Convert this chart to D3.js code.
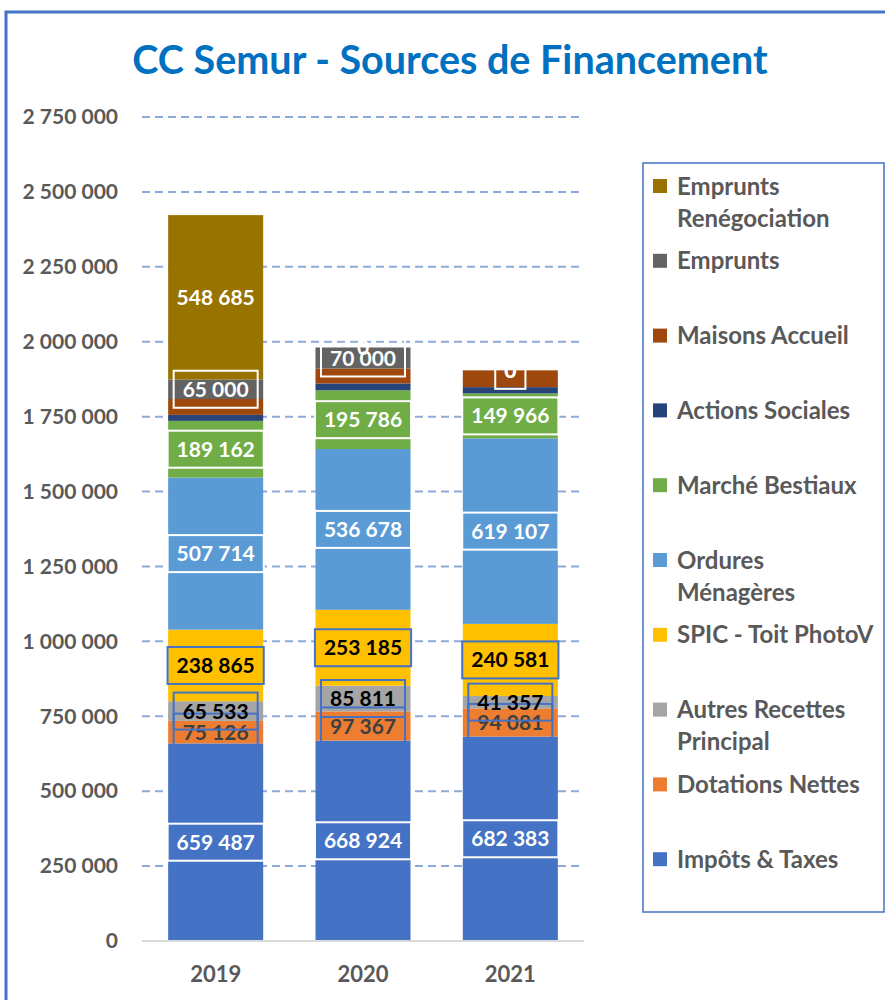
<!DOCTYPE html>
<html>
<head>
<meta charset="utf-8">
<script src="https://cdn.jsdelivr.net/npm/d3@7"></script>
<style>
  body { margin: 0; background: #fff; }
  svg text { font-family: Lato, "Open Sans", sans-serif; font-weight: bold; }
</style>
</head>
<body>
<svg id="chart" width="885" height="1000"></svg>
<script>
// chart values (bottom of the stack first)
const years = ["2019", "2020", "2021"];
const seriesNames = ["Impôts & Taxes", "Dotations Nettes", "Autres Recettes Principal", "SPIC - Toit PhotoV",
  "Ordures Ménagères", "Marché Bestiaux", "Actions Sociales", "Maisons Accueil", "Emprunts", "Emprunts Renégociation"];
const impots = [659487, 668924, 682383];
const dotations = [75126, 97367, 94081];
const autres = [65533, 85811, 41357];
const spic = [238865, 253185, 240581];
const ordures = [507714, 536678, 619107];
const marche = [189162, 195786, 149966];
const actions = [20000, 23000, 21000];
const maisons = [53000, 50000, 56000];
const emprunts = [65000, 70000, 0];
const renegociation = [548685, 0, 0];
const yTicks = [0, 250000, 500000, 750000, 1000000, 1250000, 1500000, 1750000, 2000000, 2250000, 2500000, 2750000];

const allValues = [impots, dotations, autres, spic, ordures, marche, actions, maisons, emprunts, renegociation];
const colors = ["#4472C4", "#ED7D31", "#A5A5A5", "#FFC000", "#5B9BD5", "#70AD47", "#264478", "#9E480E", "#636363", "#997300"];
// label look per series: text colour, box colour (null = no box), shown or not
const labelText = ["#fff", "#404040", "#000", "#000", "#fff", "#fff", null, null, "#fff", "#fff"];
const labelBox = ["#fff", "#4472C4", "#4472C4", "#4472C4", "#fff", "#fff", null, null, "#fff", null];

const svg = d3.select("#chart");
const fr = d3.formatLocale({ decimal: ",", thousands: " ", grouping: [3], currency: ["", " €"] });
const fmt = fr.format(",d");

// outer frame
svg.append("rect").attr("x", 6).attr("y", 12).attr("width", 900).attr("height", 1000)
  .attr("fill", "none").attr("stroke", "#4472C4").attr("stroke-width", 3);

svg.append("text").attr("x", 450).attr("y", 74).attr("text-anchor", "middle")
  .attr("fill", "#0070C0").style("font-size", "39.5px").text("CC Semur - Sources de Financement");

const x = d3.scaleBand().domain(years).range([142, 584]).paddingInner(0.355).paddingOuter(0.1775);
const y = d3.scaleLinear().domain([0, 2750000]).range([941, 117]);

// table for the stack
const table = years.map((yr, i) => {
  const row = { year: yr };
  seriesNames.forEach((s, k) => row[s] = allValues[k][i]);
  return row;
});
const stacked = d3.stack().keys(seriesNames)(table);

// gridlines
svg.append("g").selectAll("line").data(yTicks.filter(d => d > 0)).join("line")
  .attr("x1", 142).attr("x2", 584)
  .attr("y1", d => y(d)).attr("y2", d => y(d))
  .attr("stroke", "#8EA9DB").attr("stroke-width", 2).attr("stroke-dasharray", "8,5");

// y axis labels
const yAxis = svg.append("g").attr("transform", "translate(124,0)")
  .call(d3.axisLeft(y).tickValues(yTicks).tickSize(0).tickPadding(6).tickFormat(fmt));
yAxis.select(".domain").remove();
yAxis.selectAll("text").attr("fill", "#595959").style("font-size", "21px")
  .style("font-family", "Lato, sans-serif").style("font-weight", "bold");

// bars
svg.append("g").selectAll("g").data(stacked).join("g")
  .attr("fill", (d, k) => colors[k])
  .selectAll("rect").data(d => d).join("rect")
  .attr("x", d => x(d.data.year))
  .attr("width", x.bandwidth())
  .attr("y", d => y(d[1]))
  .attr("height", d => y(d[0]) - y(d[1]));

// baseline
svg.append("line").attr("x1", 142).attr("x2", 584).attr("y1", y(0)).attr("y2", y(0))
  .attr("stroke", "#D9D9D9").attr("stroke-width", 2);

// x axis labels
const xAxis = svg.append("g").attr("transform", "translate(0," + y(0) + ")")
  .call(d3.axisBottom(x).tickSize(0).tickPadding(25));
xAxis.select(".domain").remove();
xAxis.selectAll("text").attr("fill", "#595959").style("font-size", "22px")
  .style("font-family", "Lato, sans-serif").style("font-weight", "bold");

// data labels
const labels = svg.append("g");
stacked.forEach((layer, k) => {
  if (!labelText[k]) return;
  layer.forEach(d => {
    const cx = x(d.data.year) + x.bandwidth() / 2;
    const cy = y((d[0] + d[1]) / 2);
    const g = labels.append("g");
    const t = g.append("text").attr("x", cx).attr("y", cy).attr("dy", "0.36em")
      .attr("text-anchor", "middle").attr("fill", labelText[k])
      .style("font-size", "21px").text(fmt(d[1] - d[0]));
    if (labelBox[k]) {
      const w = t.node().getComputedTextLength() + 18;
      g.insert("rect", "text").attr("x", cx - w / 2).attr("y", cy - 18.5)
        .attr("width", w).attr("height", 37)
        .attr("fill", "none").attr("stroke", labelBox[k]).attr("stroke-width", 2);
    }
  });
});

// legend
svg.append("rect").attr("x", 643).attr("y", 163).attr("width", 241).attr("height", 749)
  .attr("fill", "#fff").attr("stroke", "#4472C4").attr("stroke-width", 1.5);
const legendLines = [["Emprunts", "Renégociation"], ["Emprunts"], ["Maisons Accueil"], ["Actions Sociales"],
  ["Marché Bestiaux"], ["Ordures", "Ménagères"], ["SPIC - Toit PhotoV"], ["Autres Recettes", "Principal"],
  ["Dotations Nettes"], ["Impôts & Taxes"]];
const legendColors = colors.slice().reverse();
const leg = svg.append("g").selectAll("g").data(legendLines).join("g")
  .attr("transform", (d, i) => "translate(653," + (186 + i * 74.8) + ")");
leg.append("rect").attr("x", 0).attr("y", -7).attr("width", 14).attr("height", 14)
  .attr("fill", (d, i) => legendColors[i]);
leg.each(function (lines) {
  const t = d3.select(this).append("text").attr("x", 24).attr("y", 0).attr("fill", "#595959")
    .style("font-size", "24px");
  lines.forEach((s, j) => t.append("tspan").attr("x", 24).attr("dy", j === 0 ? "0.36em" : "32px").text(s));
});
</script>
</body>
</html>
